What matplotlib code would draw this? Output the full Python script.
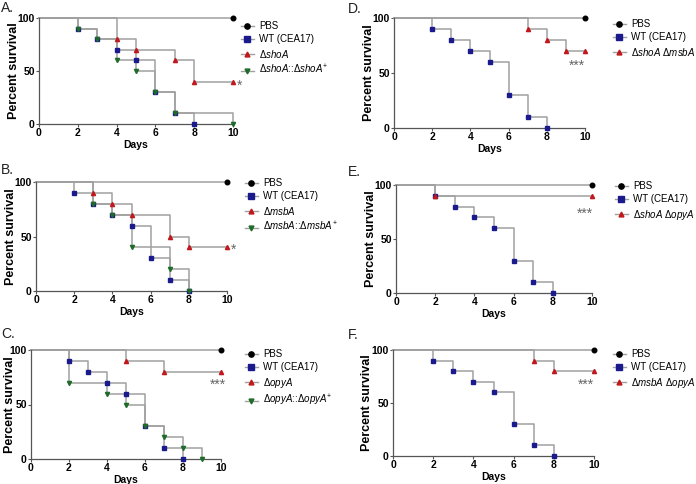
import matplotlib.pyplot as plt
from matplotlib.lines import Line2D

plt.rcParams['font.family'] = ['Liberation Sans', 'DejaVu Sans']
plt.rcParams['mathtext.fontset'] = 'custom'
plt.rcParams['mathtext.rm'] = 'Liberation Sans'
plt.rcParams['mathtext.it'] = 'Liberation Sans:italic'
plt.rcParams['mathtext.bf'] = 'Liberation Sans:bold'

W, H = 696, 484

# survival data: event days and percent survival after each event
pbs_t, pbs_s = [10], [100]
wt_t = [2, 3, 4, 5, 6, 7, 8]
wt_s = [90, 80, 70, 60, 30, 10, 0]

shoA_t, shoA_s = [4, 5, 7, 8, 10], [80, 70, 60, 40, 40]
shoA_c_t, shoA_c_s = [2, 3, 4, 5, 6, 7, 10], [90, 80, 60, 50, 30, 10, 0]

msbA_t, msbA_s = [3, 4, 5, 7, 8, 10], [90, 80, 70, 50, 40, 40]
msbA_c_t, msbA_c_s = [3, 4, 5, 7, 8], [80, 70, 40, 20, 0]

opyA_t, opyA_s = [5, 7, 10], [90, 80, 80]
opyA_c_t, opyA_c_s = [2, 4, 5, 6, 7, 8, 9], [70, 60, 50, 30, 20, 10, 0]

shoA_msbA_t, shoA_msbA_s = [7, 8, 9, 10], [90, 80, 70, 70]
shoA_opyA_t, shoA_opyA_s = [2, 10], [90, 90]
msbA_opyA_t, msbA_opyA_s = [7, 8, 10], [90, 80, 80]

LINE = '#a0a0a0'
styles = {
    'pbs': dict(marker='o', color='black', ms=3.3),
    'wt': dict(marker='s', color='#1a1a8c', ms=3.2),
    'mut': dict(marker='^', color='#c0181c', ms=3),
    'comp': dict(marker='v', color='#1f6b2a', ms=3),
}

# panels: letter, axes box in pixels (left, right, top, bottom), curves, legend labels,
# star text, letter position, y label centre x, legend top-left
panels = [
    ('A.', (39, 233, 18, 124),
     [('pbs', pbs_t, pbs_s), ('wt', wt_t, wt_s), ('mut', shoA_t, shoA_s), ('comp', shoA_c_t, shoA_c_s)],
     ['PBS', 'WT (CEA17)', r'Δ$\it{shoA}$', r'Δ$\it{shoA}$::Δ$\it{shoA}^{+}$'],
     ('*', 10.35, 36), (1, 1), 14, (241, 21)),
    ('B.', (36, 227, 182, 291),
     [('pbs', pbs_t, pbs_s), ('wt', wt_t, wt_s), ('mut', msbA_t, msbA_s), ('comp', msbA_c_t, msbA_c_s)],
     ['PBS', 'WT (CEA17)', r'Δ$\it{msbA}$', r'Δ$\it{msbA}$::Δ$\it{msbA}^{+}$'],
     ('*', 10.35, 38), (1, 163), 11, (245, 178)),
    ('C.', (31, 221, 350, 459),
     [('pbs', pbs_t, pbs_s), ('wt', wt_t, wt_s), ('mut', opyA_t, opyA_s), ('comp', opyA_c_t, opyA_c_s)],
     ['PBS', 'WT (CEA17)', r'Δ$\it{opyA}$', r'Δ$\it{opyA}$::Δ$\it{opyA}^{+}$'],
     ('***', 9.85, 68), (1, 327), 10, (245, 349)),
    ('D.', (394, 585, 18, 128),
     [('pbs', pbs_t, pbs_s), ('wt', wt_t, wt_s), ('mut', shoA_msbA_t, shoA_msbA_s)],
     ['PBS', 'WT (CEA17)', r'Δ$\it{shoA}$ Δ$\it{msbA}$'],
     ('***', 9.6, 57), (348, 2), 369, (613, 19)),
    ('E.', (396, 592, 185, 293),
     [('pbs', pbs_t, pbs_s), ('wt', wt_t, wt_s), ('mut', shoA_opyA_t, shoA_opyA_s)],
     ['PBS', 'WT (CEA17)', r'Δ$\it{shoA}$ Δ$\it{opyA}$'],
     ('***', 9.65, 73), (348, 165), 371, (615, 181)),
    ('F.', (393, 594, 350, 456),
     [('pbs', pbs_t, pbs_s), ('wt', wt_t, wt_s), ('mut', msbA_opyA_t, msbA_opyA_s)],
     ['PBS', 'WT (CEA17)', r'Δ$\it{msbA}$ Δ$\it{opyA}$'],
     ('***', 9.6, 67), (348, 328), 367, (613, 349)),
]

fig = plt.figure(figsize=(W / 100, H / 100), dpi=100)

for letter, (l, r, t, b), curves, labels, star, lpos, ylx, leg in panels:
    ax = fig.add_axes([l / W, 1 - b / H, (r - l) / W, (b - t) / H])
    handles = []
    for key, tt, ss in curves:
        st = styles[key]
        xs = [0] + list(tt)
        ys = [100] + list(ss)
        ax.step(xs, ys, where='post', color=LINE, lw=1.1, zorder=2, clip_on=False)
        ax.plot(tt, ss, ls='none', marker=st['marker'], color=st['color'],
                ms=st['ms'], zorder=3, clip_on=False)
        handles.append(Line2D([], [], color=LINE, lw=1, marker=st['marker'],
                              mfc=st['color'], mec=st['color'], ms=st['ms'] + 0.5))
    ax.set_xlim(0, 10)
    ax.set_ylim(0, 100)
    ax.set_xticks([0, 2, 4, 6, 8, 10])
    ax.set_yticks([0, 50, 100])
    for s in ['top', 'right']:
        ax.spines[s].set_visible(False)
    for s in ['left', 'bottom']:
        ax.spines[s].set_color('#555555')
        ax.spines[s].set_linewidth(0.9)
    ax.tick_params(labelsize=7.5, length=2.5, width=0.8, color='#555555', pad=0.5)
    for lab in ax.get_xticklabels() + ax.get_yticklabels():
        lab.set_fontweight('bold')
    ax.set_xlabel('Days', fontsize=7.5, fontweight='bold', labelpad=1)
    ax.set_ylabel('Percent survival', fontsize=9, fontweight='bold', va='center')
    ax.yaxis.set_label_coords((ylx - l) / (r - l), 0.5)
    ax.text(star[1], star[2], star[0], fontsize=10, color='#666666',
            ha='center', va='center')
    ax.legend(handles, labels, loc='upper left', bbox_to_anchor=(leg[0] / W, 1 - leg[1] / H),
              bbox_transform=fig.transFigure, frameon=False, fontsize=7,
              handlelength=1.3, handletextpad=0.6, labelspacing=0.35, borderpad=0,
              borderaxespad=0)
    fig.text(lpos[0] / W, 1 - lpos[1] / H, letter, fontsize=10, va='top', ha='left',
             color='#222222')

plt.savefig('out.png', dpi=100)
